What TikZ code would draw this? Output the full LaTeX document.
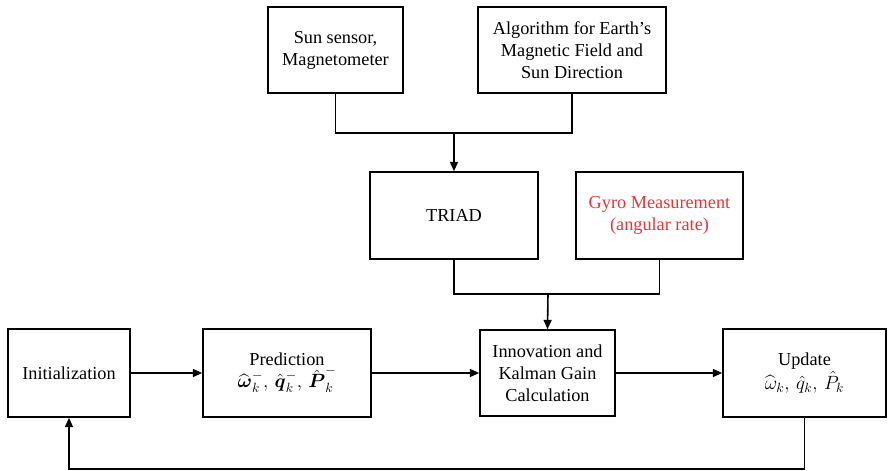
\documentclass[tikz,border=0pt]{standalone}
\usepackage{amsmath,amssymb}
\usepackage{fontspec}
\setmainfont{Liberation Serif}
\usetikzlibrary{arrows.meta}
\definecolor{gyrored}{RGB}{232,52,52}
\begin{document}
\begin{tikzpicture}[x=0.75pt,y=-0.75pt,
  box/.style={draw,line width=1.2pt,align=center,inner sep=2pt,
    font=\fontsize{13.7}{16.5}\selectfont},
  conn/.style={line width=1.2pt},
  arr/.style={line width=1.2pt,-{Triangle[length=7pt,width=6pt]}}]
\useasboundingbox (0,0) rectangle (889,471);
\node[box,minimum width=101.25pt,minimum height=64.5pt] (sun) at (335.5,50) {Sun sensor,\\Magnetometer};
\node[box,minimum width=141pt,minimum height=64.5pt] (alg) at (572,50) {Algorithm for Earth’s\\Magnetic Field and\\Sun Direction};
\node[box,minimum width=126pt,minimum height=65.25pt] (triad) at (454,215.5) {TRIAD};
\node[box,minimum width=125.25pt,minimum height=65.25pt,text=gyrored] (gyro) at (659.5,215.5) {Gyro Measurement\\(angular rate)};
\node[box,minimum width=91.5pt,minimum height=66pt] (init) at (69,373) {Initialization};
\node[box,minimum width=126pt,minimum height=66pt] (pred) at (287,373) {Prediction\\$\widehat{\boldsymbol{\omega}}_k^-,\,\hat{\boldsymbol{q}}_k^-,\,\hat{\boldsymbol{P}}_k^-$};
\node[box,minimum width=101.25pt,minimum height=64.5pt] (innov) at (547.5,373) {Innovation and\\Kalman Gain\\Calculation};
\node[box,minimum width=122.25pt,minimum height=66pt] (upd) at (804.5,373) {Update\\$\widehat{\omega}_k,\,\hat{q}_k,\,\hat{P}_k$};
\coordinate (j1) at (454,133);
\coordinate (j2) at (548,294);
\coordinate (fb) at (0,469);
\draw[conn] (sun.south) |- (j1) -| (alg.south);
\draw[arr] (j1) -- (triad.north);
\draw[conn] (triad.south) |- (j2) -| (gyro.south);
\draw[arr] (j2) -- (innov.north);
\draw[arr] (init) -- (pred);
\draw[arr] (pred) -- (innov);
\draw[arr] (innov) -- (upd);
\draw[arr] (upd.south) |- (fb -| upd.south) -- (fb -| init.south) -- (init.south);
\end{tikzpicture}
\end{document}
